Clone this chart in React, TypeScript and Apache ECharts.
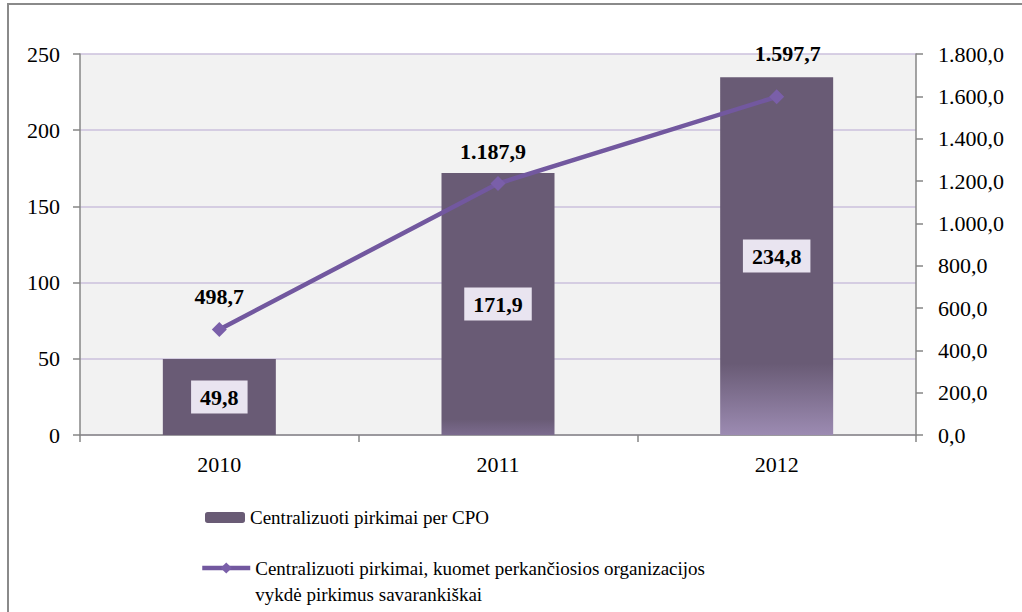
import React, { useEffect, useRef } from "react";
import * as echarts from "echarts";

const categories = ["2010", "2011", "2012"];
const barName = "Centralizuoti pirkimai per CPO";
const lineName = "Centralizuoti pirkimai, kuomet perkančiosios organizacijos vykdė pirkimus savarankiškai";
const barValues = [49.8, 171.9, 234.8];
const lineValues = [498.7, 1187.9, 1597.7];

const SERIF = "Liberation Serif";
const BAR = "#695b75";
const LINE = "#72589f";

function fmtLt(v: number): string {
  const s = v.toFixed(1);
  const [i, d] = s.split(".");
  const withDots = i.replace(/\B(?=(\d{3})+(?!\d))/g, ".");
  return withDots + "," + d;
}

function grad(stop: number, bottom: string) {
  return new echarts.graphic.LinearGradient(0, 0, 0, 1, [
    { offset: 0, color: BAR },
    { offset: stop, color: BAR },
    { offset: 1, color: bottom },
  ]);
}

export default function App() {
  const ref = useRef<HTMLDivElement>(null);
  useEffect(() => {
    if (!ref.current) return;
    const chart = echarts.init(ref.current, null, { renderer: "svg" });
    const barStyles = [
      { color: BAR },
      { color: grad(0.94, "#7b6b8e") },
      { color: grad(0.8, "#9c8bb2") },
    ];
    const lineLabelTweaks = [
      { distance: 14, offset: [0, 0] },
      { distance: 14, offset: [-5, 0] },
      { distance: 25, offset: [11, 0] },
    ];
    chart.setOption({
      animation: false,
      backgroundColor: "#ffffff",
      textStyle: { fontFamily: SERIF },
      graphic: [
        {
          type: "rect",
          shape: { x: 8, y: 4, width: 1100, height: 700 },
          style: { fill: "none", stroke: "#8a8a8a", lineWidth: 2 },
          silent: true,
        },
      ],
      grid: { left: 80, right: 106, top: 54, bottom: 177, show: true, backgroundColor: "#f2f2f2", borderWidth: 0 },
      legend: [
        {
          data: [barName],
          orient: "vertical",
          left: 205,
          top: 508,
          padding: 0,
          itemWidth: 40,
          itemHeight: 11,
          itemGap: 5,
          textStyle: { fontFamily: SERIF, fontSize: 19, color: "#000" },
        },
        {
          data: [lineName],
          orient: "vertical",
          left: 200,
          top: 529,
          padding: 0,
          itemWidth: 48,
          itemHeight: 14,
          itemGap: 5,
          lineStyle: { width: 4.5, color: LINE },
          formatter: () => " \nCentralizuoti pirkimai, kuomet perkančiosios organizacijos\nvykdė pirkimus savarankiškai",
          textStyle: { fontFamily: SERIF, fontSize: 19, color: "#000", lineHeight: 26 },
        },
      ],
      xAxis: {
        type: "category",
        data: categories,
        axisLine: { lineStyle: { color: "#868686", width: 1.5 } },
        axisTick: { show: true, length: 7, lineStyle: { color: "#868686", width: 1.5 } },
        axisLabel: { fontFamily: SERIF, fontSize: 22, color: "#000", margin: 18 },
      },
      yAxis: [
        {
          type: "value",
          min: 0,
          max: 250,
          interval: 50,
          axisLine: { show: true, lineStyle: { color: "#868686", width: 1.5 } },
          axisTick: { show: true, length: 7, lineStyle: { color: "#868686", width: 1.5 } },
          axisLabel: { fontFamily: SERIF, fontSize: 22, color: "#000", margin: 20 },
          splitLine: { show: true, lineStyle: { color: "#cbc1dc", width: 1.5 } },
        },
        {
          type: "value",
          min: 0,
          max: 1800,
          interval: 200,
          position: "right",
          axisLine: { show: true, lineStyle: { color: "#868686", width: 1.5 } },
          axisTick: { show: true, length: 7, lineStyle: { color: "#868686", width: 1.5 } },
          axisLabel: { fontFamily: SERIF, fontSize: 22, color: "#000", margin: 22, formatter: (v: number) => fmtLt(v) },
          splitLine: { show: false },
        },
      ],
      series: [
        {
          name: barName,
          type: "bar",
          yAxisIndex: 0,
          barWidth: 113,
          itemStyle: { color: BAR },
          data: barValues.map((v, i) => ({ value: v, itemStyle: barStyles[i] })),
          label: {
            show: true,
            position: "inside",
            formatter: (p: any) => fmtLt(p.value),
            fontFamily: SERIF,
            fontSize: 22,
            fontWeight: "bold",
            color: "#000",
            backgroundColor: "#e9e4f0",
            padding: [6, 9, 5, 9],
          },
          z: 2,
        },
        {
          name: lineName,
          type: "line",
          yAxisIndex: 1,
          symbol: "diamond",
          symbolSize: 15,
          lineStyle: { color: LINE, width: 4.5 },
          itemStyle: { color: "#7a5fa9" },
          data: lineValues.map((v, i) => ({
            value: v,
            label: { distance: lineLabelTweaks[i].distance, offset: lineLabelTweaks[i].offset },
          })),
          label: {
            show: true,
            position: "top",
            formatter: (p: any) => fmtLt(p.value),
            fontFamily: SERIF,
            fontSize: 22,
            fontWeight: "bold",
            color: "#000",
          },
          z: 5,
        },
      ],
    });
    return () => chart.dispose();
  }, []);
  return <div ref={ref} style={{ position: "absolute", left: 0, top: 0, width: 1022, height: 612 }} />;
}
